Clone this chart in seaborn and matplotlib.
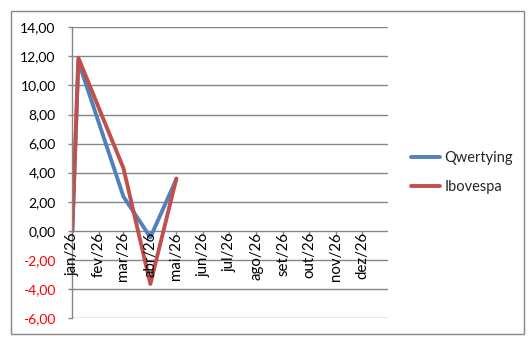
import matplotlib
matplotlib.use("Agg")
import matplotlib.pyplot as plt
from matplotlib.patches import Rectangle
from matplotlib.lines import Line2D
import seaborn as sns
import pandas as pd

dates = ["2026-01-01", "2026-01-08", "2026-03-01", "2026-04-01", "2026-05-01"]
qwertying = [0.0, 11.65, 2.35, -0.45, 3.55]
ibovespa = [0.0, 11.9, 4.3, -3.66, 3.6]
series_names = ["Qwertying", "Ibovespa"]
month_labels = ["jan/26", "fev/26", "mar/26", "abr/26", "mai/26", "jun/26",
                "jul/26", "ago/26", "set/26", "out/26", "nov/26", "dez/26"]
y_ticks = [-6, -4, -2, 0, 2, 4, 6, 8, 10, 12, 14]

sns.set_theme(style="white")
plt.rcParams["font.family"] = ["Lato", "DejaVu Sans"]

df = pd.DataFrame({
    "date": pd.to_datetime(dates * 2),
    "value": qwertying + ibovespa,
    "serie": [series_names[0]] * len(dates) + [series_names[1]] * len(dates),
})

fig = plt.figure(figsize=(5.31, 3.41), dpi=100)
ax = fig.add_axes([72.3 / 531, 1 - 318 / 341, (388 - 72.3) / 531, (318 - 27.3) / 341])

colors = {"Qwertying": "#4F81BD", "Ibovespa": "#C0504D"}
sns.lineplot(data=df, x="date", y="value", hue="serie", palette=colors,
             linewidth=2.8, ax=ax, legend=False, sort=False)

grid_c = "#868686"
ax.set_ylim(-6, 14)
ax.set_yticks(y_ticks)
ax.set_yticklabels([f"{v:.2f}".replace(".", ",") for v in y_ticks], fontsize=10)
for lbl, v in zip(ax.get_yticklabels(), y_ticks):
    lbl.set_color("red" if v < 0 else "black")
for v in y_ticks:
    ax.axhline(v, color=grid_c, lw=1.0, zorder=0)

x0 = pd.Timestamp("2026-01-01")
ax.set_xlim(x0, pd.Timestamp("2026-12-31"))
ticks = pd.date_range("2026-01-01", periods=12, freq="MS")
ax.set_xticks(ticks)
ax.set_xticklabels([])
ax.tick_params(axis="x", length=0)
ax.tick_params(axis="y", direction="out", length=3, color=grid_c, width=1, pad=9, left=True)
ax.set_xlabel("")
ax.set_ylabel("")

tick_len = 3.5 / 14.53
for t, lab in zip(ticks, month_labels):
    ax.plot([t, t], [0, -tick_len], color=grid_c, lw=1.0, zorder=1, clip_on=False)
    ax.text(t, -0.1, lab, rotation=90, ha="center", va="top", fontsize=10.8, color="black")

for s in ["top", "right", "bottom"]:
    ax.spines[s].set_visible(False)
ax.spines["left"].set_color(grid_c)
ax.spines["left"].set_linewidth(1.0)

handles = [Line2D([0], [0], color=colors[n], lw=2.8) for n in series_names]
fig.legend(handles, series_names, loc="center left",
           bbox_to_anchor=(411 / 531, 1 - 172.5 / 341), frameon=False,
           fontsize=10.5, handlelength=2.0, handletextpad=0.3, labelspacing=1.0,
           borderpad=0, borderaxespad=0)

fig.patches.append(Rectangle((10.7 / 531, 1 - 334.3 / 341), (524.3 - 10.7) / 531,
                             (334.3 - 11.3) / 341, transform=fig.transFigure,
                             fill=False, edgecolor=grid_c, lw=1.0))

fig.savefig("out.png", dpi=100)
